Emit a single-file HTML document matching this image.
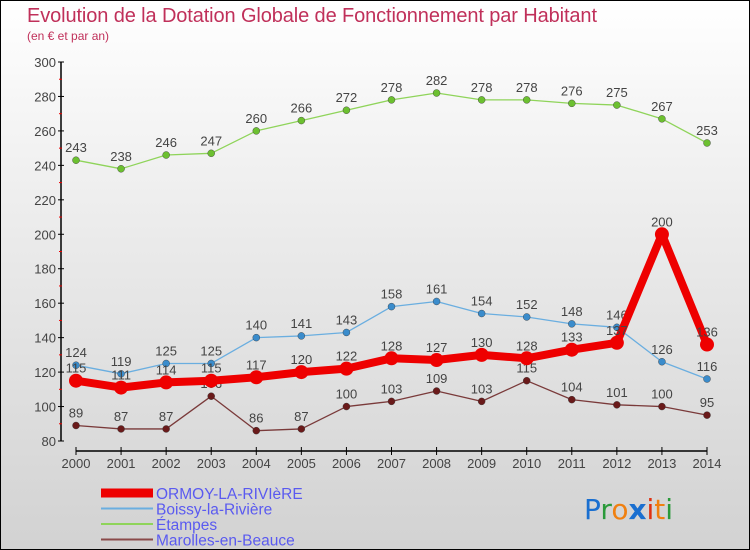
<!DOCTYPE html>
<html><head><meta charset="utf-8"><style>
html,body{margin:0;padding:0}
body{width:750px;height:550px;overflow:hidden;font-family:"Liberation Sans","DejaVu Sans",sans-serif}
#wrap{position:relative;width:748px;height:548px;border:1px solid #000;background:linear-gradient(#fff 0%,#ececec 40%,#d2d2d2 100%)}
</style></head><body>
<div id="wrap">
<svg id="chart" width="748" height="548" style="position:absolute;left:0;top:0" font-family="Liberation Sans,sans-serif">
<text x="26" y="21" font-size="20" fill="#c0305a" font-family="Liberation Sans,sans-serif" textLength="570">Evolution de la Dotation Globale de Fonctionnement par Habitant</text>
<text x="26" y="39" font-size="12" fill="#c0305a">(en € et par an)</text>
<g id="axes"></g><g id="series"></g><g id="legend"></g>
<g font-size="28" font-family="DejaVu Sans,sans-serif">
<text x="583" y="518"><tspan fill="#1a6fd0">P</tspan><tspan fill="#2a9a3a">r</tspan><tspan fill="#f08010">o</tspan><tspan fill="#1a6fd0" font-weight="bold">x</tspan><tspan fill="#e03010">i</tspan><tspan fill="#f08010">t</tspan><tspan fill="#2a9a3a">i</tspan></text>
</g>
</svg>
</div>
<script>
const years=[2000,2001,2002,2003,2004,2005,2006,2007,2008,2009,2010,2011,2012,2013,2014];
const ormoy=[115,111,114,115,117,120,122,128,127,130,128,133,137,200,136];
const boissy=[124,119,125,125,140,141,143,158,161,154,152,148,146,126,116];
const etampes=[243,238,246,247,260,266,272,278,282,278,278,276,275,267,253];
const marolles=[89,87,87,106,86,87,100,103,109,103,115,104,101,100,95];
const yTicks=[80,100,120,140,160,180,200,220,240,260,280,300];
const NS="http://www.w3.org/2000/svg";
const x=i=>75+i*(706-75)/(years.length-1);
const y=v=>440-(v-80)*(440-61)/220;
function mk(tag,attrs,parent,txt){const e=document.createElementNS(NS,tag);for(const k in attrs)e.setAttribute(k,attrs[k]);if(txt!=null)e.textContent=txt;parent.appendChild(e);return e;}
const axes=document.getElementById('axes');
const ya=mk('line',{x1:60,y1:61,x2:60,y2:440,stroke:'#000','stroke-width':1.5},axes);


const xa=mk('line',{x1:75,y1:450,x2:706,y2:450,stroke:'#000','stroke-width':1.5},axes);


yTicks.forEach(v=>{
  mk('line',{x1:57,y1:y(v),x2:63,y2:y(v),stroke:'#000'},axes);
  if(v<300) mk('line',{x1:58,y1:y(v+10),x2:61,y2:y(v+10),stroke:'#e00'},axes);
  const t=mk('text',{x:55,y:y(v)+5,'text-anchor':'end','font-size':13,fill:'#444'},axes,v);
  
  
});
years.forEach((yr,i)=>{
  mk('line',{x1:x(i),y1:446,x2:x(i),y2:454,stroke:'#000'},axes);
  const t=mk('text',{x:x(i),y:467,'text-anchor':'middle','font-size':13,fill:'#444'},axes,yr);
  
  
});
const series=[
 {name:'etampes',data:etampes,color:'#8fd45a',w:1.3,r:3.5,fill:'#6cc030'},
 {name:'boissy',data:boissy,color:'#6aaee0',w:1.3,r:3.5,fill:'#3a8ccc'},
 {name:'marolles',data:marolles,color:'#7a3a3a',w:1.3,r:3.5,fill:'#6a1a1a'},
 {name:'ormoy',data:ormoy,color:'#ee0000',w:8,r:7,fill:'#ee0000'}
];
const sg=document.getElementById('series');
series.forEach(s=>{
  const g=mk('g',{},sg);
  
  
  const p=mk('polyline',{points:s.data.map((v,i)=>x(i)+','+y(v)).join(' '),fill:'none',stroke:s.color,'stroke-width':s.w,'stroke-linejoin':'round'},g);
  
  
  s.data.forEach((v,i)=>{
    const c=mk('circle',{cx:x(i),cy:y(v),r:s.r,fill:s.fill,stroke:s.w>2?'none':'#333','stroke-width':0.4},g);
    
    
    const t=mk('text',{x:x(i),y:y(v)-8,'text-anchor':'middle','font-size':13,fill:'#444'},g,v);
    
    
  });
});
const lg=document.getElementById('legend');
const leg=[['ORMOY-LA-RIVIèRE','#ee0000',9],['Boissy-la-Rivière','#6aaee0',2],['Étampes','#8fd45a',2],['Marolles-en-Beauce','#8a4a4a',2]];
leg.forEach((l,i)=>{
  const g=mk('g',{},lg);
  
  
  mk('line',{x1:100,y1:492+i*15.5,x2:152,y2:492+i*15.5,stroke:l[1],'stroke-width':l[2]},g);
  mk('text',{x:155,y:498+i*15.5,'font-size':15.5,fill:'#5a5af0'},g,l[0]);
});
</script>
</body></html>
